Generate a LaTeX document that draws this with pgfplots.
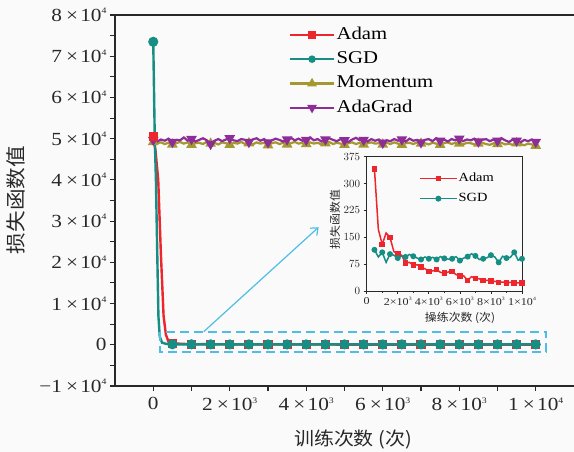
\documentclass[border=0pt]{standalone}
\usepackage{pgfplots}
\usepackage{pgfplotstable}
\pgfplotsset{compat=1.18}
\usepackage{fontspec}
\setmainfont{Liberation Serif}[FakeStretch=1.15]
\newfontfamily\cjk{Noto Sans CJK SC}[FakeStretch=1.08]
\usetikzlibrary{arrows.meta}

\definecolor{adamred}{RGB}{236,38,44}
\definecolor{sgdteal}{RGB}{22,142,132}
\definecolor{momolive}{RGB}{164,152,48}
\definecolor{adapurple}{RGB}{142,44,152}
\definecolor{zoomcyan}{RGB}{78,190,230}
\definecolor{bgpaper}{RGB}{250,250,250}
\definecolor{axisgray}{RGB}{40,40,40}

% scientific tick labels: a x 10^b
\newcommand{\sciM}[2]{#1\hspace{0.22em}×\hspace{0.12em}10\raisebox{0.9ex}{\fontsize{8.5}{8.5}\selectfont #2}}
\newcommand{\sciS}[2]{#1×10\raisebox{0.9ex}{\fontsize{5}{5}\selectfont #2}}

% ---------- main plot: early descent + steady part ----------
\pgfplotstableread{
x y
0 50500
60 47000
130 40000
200 22000
270 7000
330 2500
400 700
500 340
1000 130
1500 150
2000 103
2500 78
3000 72
3500 67
4000 55
4500 60
5000 50
5500 54
6000 42
6500 30
7000 35
7500 29
8000 28
8500 24
9000 23
9500 23
10000 22
}\adammain

\pgfplotstableread{
x y
0 73500
40 50000
70 40000
105 22000
135 7000
170 2000
230 500
350 200
500 115
1000 108
1500 103
2000 92
2500 95
3000 97
3500 88
4000 90
4500 88
5000 91
5500 90
6000 85
6500 96
7000 98
7500 90
8000 100
8500 80
9000 92
9500 108
10000 90
}\sgdmain

\pgfplotstableread{
x y
0 49200
100 48900
200 49100
300 48700
400 49000
500 48600
600 48900
700 49200
800 48800
900 49100
1000 48500
1100 48900
1200 49000
1300 48700
1400 49200
1500 48800
1600 49000
1700 48600
1800 49100
1900 48900
2000 48500
2100 49000
2200 48800
2300 49200
2400 48700
2500 48900
2600 48600
2700 49100
2800 48800
2900 49000
3000 48400
3100 48900
3200 49100
3300 48700
3400 49000
3500 48600
3600 48900
3700 49200
3800 48800
3900 49000
4000 48700
4100 49100
4200 48800
4300 49000
4400 48600
4500 48900
4600 49200
4700 48700
4800 49000
4900 48800
5000 48500
5100 48900
5200 49100
5300 48700
5400 49000
5500 48600
5600 48900
5700 49100
5800 48800
5900 48900
6000 48600
6100 49000
6200 48700
6300 49100
6400 48800
6500 48500
6600 48900
6700 49000
6800 48700
6900 49100
7000 48800
7100 48900
7200 48600
7300 49000
7400 48800
7500 48500
7600 48900
7700 49100
7800 48700
7900 49000
8000 48800
8100 48600
8200 49000
8300 48900
8400 48600
8500 48800
8600 49000
8700 48700
8800 48500
8900 48900
9000 48700
9100 49000
9200 48600
9300 48800
9400 48500
9500 48900
9600 48700
9700 48400
9800 48800
9900 48600
10000 48300
}\momentum

\pgfplotstableread{
x y
0 49700
100 49300
200 49800
300 49500
400 50000
500 49200
600 49700
700 49600
800 50300
900 49500
1000 49900
1100 49300
1200 49700
1300 50100
1400 49600
1500 48700
1600 49500
1700 49900
1800 49400
1900 49800
2000 50100
2100 49600
2200 49400
2300 49900
2400 49700
2500 49200
2600 49800
2700 50100
2800 49500
2900 49900
3000 49100
3100 49600
3200 50000
3300 49700
3400 49300
3500 49800
3600 50200
3700 49600
3800 50000
3900 49500
4000 49700
4100 50300
4200 49600
4300 49900
4400 49300
4500 49800
4600 50100
4700 49700
4800 49400
4900 49900
5000 49600
5100 49200
5200 49800
5300 50200
5400 49600
5500 49700
5600 49300
5700 49900
5800 49500
5900 49800
6000 49000
6100 49600
6200 49400
6300 49900
6400 49500
6500 49800
6600 49300
6700 50000
6800 49500
6900 49700
7000 49100
7100 49700
7200 49900
7300 49400
7400 50100
7500 49500
7600 49800
7700 49300
7800 49900
7900 49600
8000 50000
8100 49400
8200 49800
8300 49600
8400 50000
8500 49300
8600 49700
8700 49900
8800 49400
8900 49800
9000 49500
9100 50100
9200 49600
9300 49200
9400 49800
9500 49500
9600 49100
9700 49700
9800 49400
9900 49800
10000 49200
}\adagrad

% ---------- inset: steady part at fine scale ----------
\pgfplotstableread{
x y
500 340
750 172
1000 130
1250 162
1500 150
1750 110
2000 103
2250 100
2500 78
2750 80
3000 72
3250 73
3500 67
3750 62
4000 55
4250 56
4500 60
4750 52
5000 50
5250 53
5500 54
5750 46
6000 42
6250 42
6500 30
6750 40
7000 35
7250 34
7500 29
7750 30
8000 28
8250 27
8500 24
8750 25
9000 23
9250 24
9500 23
9750 23
10000 22
}\adaminset

\pgfplotstableread{
x y
500 115
750 95
1000 108
1250 80
1500 103
1750 100
2000 92
2250 98
2500 95
2750 102
3000 97
3250 92
3500 88
3750 95
4000 90
4250 94
4500 88
4750 96
5000 91
5250 89
5500 90
5750 96
6000 85
6250 92
6500 96
6750 104
7000 98
7250 88
7500 90
7750 93
8000 100
8250 95
8500 80
8750 97
9000 92
9250 94
9500 108
9750 86
10000 90
}\sgdinset

\begin{document}
\begin{tikzpicture}
\fill[bgpaper] (0,0) rectangle (574pt,452pt);
\useasboundingbox (0,0) rectangle (574pt,452pt);

\begin{axis}[
  at={(115pt,66pt)}, anchor=south west,
  scale only axis, width=459pt, height=371pt,
  xmin=-1000, xmax=11000, ymin=-10000, ymax=80000,
  scaled ticks=false,
  axis x line*=bottom, axis y line*=left,
  axis line style={line width=1.1pt, axisgray},
  tick align=outside,
  major tick length=5pt, minor tick length=5pt,
  every tick/.style={line width=1.1pt, axisgray},
  xtick={0,2000,4000,6000,8000,10000},
  xticklabels={0,\sciM{2}{3},\sciM{4}{3},\sciM{6}{3},\sciM{8}{3},\sciM{1}{4}},
  minor x tick num=1,
  ytick={-10000,0,10000,20000,30000,40000,50000,60000,70000,80000},
  yticklabels={−\sciM{1}{4},0,\sciM{1}{4},\sciM{2}{4},\sciM{3}{4},\sciM{4}{4},\sciM{5}{4},\sciM{6}{4},\sciM{7}{4},\sciM{8}{4}},
  minor y tick num=1,
  ticklabel style={font=\fontsize{18.5}{20}\selectfont, text=axisgray},
  xticklabel style={yshift=-3pt},
  xlabel={\cjk 训练次数 (次)},
  xlabel style={font=\fontsize{18.5}{20}\selectfont, at={(axis description cs:0.5185,-0.143)}, anchor=center, text=axisgray},
  ylabel={\cjk 损失函数值},
  ylabel style={font=\fontsize{20}{22}\selectfont, at={(axis description cs:-0.2157,0.501)}, anchor=center, text=axisgray},
  legend style={at={(0.372,0.978)}, anchor=north west, draw=none, fill=none,
    font=\fontsize{18}{20}\selectfont, row sep=5.3pt,
    nodes={inner sep=1.5pt, text height=12.5pt, text depth=3.5pt}},
  legend cell align=left,
  legend image code/.code={\draw[#1] (0pt,0pt) -- (44pt,0pt);
    \draw[#1, mark repeat=1] plot coordinates {(22pt,0pt)};},
]
% legend entries
\addlegendimage{adamred, line width=2.2pt, mark=square*, mark size=2.6pt}
\addlegendentry{Adam}
\addlegendimage{sgdteal, line width=2.2pt, mark=*, mark size=2.6pt}
\addlegendentry{SGD}
\addlegendimage{momolive, line width=2.2pt, mark=triangle*, mark size=3.4pt}
\addlegendentry{Momentum}
\addlegendimage{adapurple, line width=2.2pt, mark=triangle*, mark options={rotate=180}, mark size=3.4pt}
\addlegendentry{AdaGrad}

% curves, back to front
\addplot[forget plot, momolive, line width=2.2pt, mark=triangle*, mark size=4pt, mark repeat=5,
  mark options={solid}] table[x=x,y=y] {\momentum};
\addplot[forget plot, adapurple, line width=2.2pt, mark=triangle*, mark size=4pt, mark repeat=5,
  mark options={solid, rotate=180}] table[x=x,y=y] {\adagrad};
\addplot[forget plot, adamred, line width=2.4pt, mark=square*, mark size=3.4pt,
  mark indices={1,8,9,10,11,12,13,14,15,16,17,18,19,20,21,22,23,24,25,26,27}]
  table[x=x,y=y] {\adammain};
\addplot[forget plot, sgdteal, line width=2.4pt, mark=*, mark size=3.8pt,
  mark indices={1,9,10,11,12,13,14,15,16,17,18,19,20,21,22,23,24,25,26,27,28}]
  table[x=x,y=y] {\sgdmain};

% top spine
\draw[line width=1.1pt, axisgray] (rel axis cs:0,1) -- (rel axis cs:1,1);
% zoom window and pointer to the inset
\draw[zoomcyan, line width=2pt, dash pattern=on 9pt off 5pt]
  (axis cs:175,3100) rectangle (axis cs:10280,-1750);
\draw[zoomcyan, line width=1.2pt, -{Straight Barb[length=6pt,width=10pt]}]
  (axis cs:1320,3180) -- (axis cs:4323,28519);
\end{axis}

\begin{axis}[
  at={(366.7pt,161pt)}, anchor=south west,
  scale only axis, width=155.3pt, height=134.3pt,
  xmin=0, xmax=10000, ymin=0, ymax=375,
  scaled ticks=false,
  axis line style={line width=0.8pt, axisgray},
  tick pos=left, tick align=outside,
  major tick length=3pt, minor tick length=2pt,
  every tick/.style={line width=0.7pt, axisgray},
  xtick={0,2000,4000,6000,8000,10000},
  xticklabels={0,\sciS{2}{3},\sciS{4}{3},\sciS{6}{3},\sciS{8}{3},\sciS{1}{4}},
  minor x tick num=1,
  ytick={0,75,150,225,300,375},
  ticklabel style={font=\fontsize{10.5}{12}\selectfont, text=axisgray},
  xlabel={\cjk 操练次数 (次)},
  xlabel style={font=\fontsize{11}{12}\selectfont, at={(axis description cs:0.601,-0.201)}, anchor=center, text=axisgray},
  ylabel={\cjk 损失函数值},
  ylabel style={font=\fontsize{11}{12}\selectfont, at={(axis description cs:-0.204,0.532)}, anchor=center, text=axisgray},
  legend style={at={(0.317,0.905)}, anchor=north west, draw=none, fill=none,
    font=\fontsize{12.5}{14}\selectfont, row sep=6pt,
    nodes={inner sep=1pt, text height=9pt, text depth=3pt}},
  legend cell align=left,
  legend image code/.code={\draw[#1] (0pt,0pt) -- (37pt,0pt);
    \draw[#1, mark repeat=1] plot coordinates {(18.5pt,0pt)};},
]
\addplot[adamred, line width=1.5pt, mark=square*, mark size=2pt, mark repeat=2]
  table[x=x,y=y] {\adaminset};
\addlegendentry{Adam}
\addplot[sgdteal, line width=1.5pt, mark=*, mark size=2.2pt, mark repeat=2]
  table[x=x,y=y] {\sgdinset};
\addlegendentry{SGD}
\end{axis}
\end{tikzpicture}
\end{document}
